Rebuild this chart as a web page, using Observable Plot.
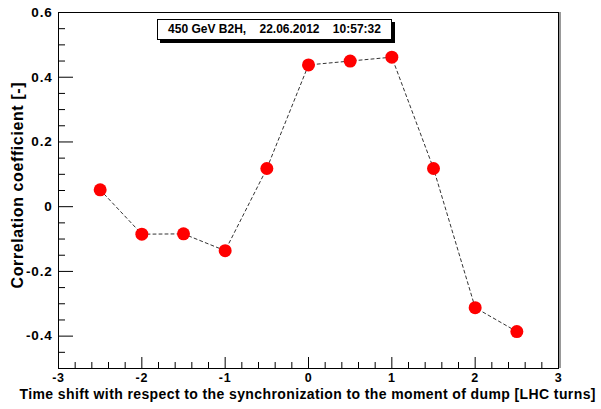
<!DOCTYPE html>
<html>
<head>
<meta charset="utf-8">
<script src="https://cdn.jsdelivr.net/npm/d3@7"></script>
<script src="https://cdn.jsdelivr.net/npm/@observablehq/plot@0.6"></script>
<style>
  body { margin: 0; background: #fff; }
  #wrap { position: relative; width: 601px; height: 409px; }
  #wrap svg { font-family: "Liberation Sans", Arial, sans-serif; }
  #wrap svg g[aria-label$="tick label"] text { letter-spacing: 0.8px; }
  #stamp {
    position: absolute; left: 157px; top: 19px; width: 233px; height: 19px;
    border: 1px solid #000; background: #fff; box-shadow: 3px 3px 0 #000;
    font: bold 12px "Liberation Sans", Arial, sans-serif; white-space: pre;
    line-height: 19px; text-align: center; color: #000;
  }
</style>
</head>
<body>
<div id="wrap"></div>
<script>
// Time shift in LHC turns and the measured correlation coefficient
const shifts = [-2.5, -2, -1.5, -1, -0.5, 0, 0.5, 1, 1.5, 2, 2.5];
const correlation = [0.052, -0.085, -0.084, -0.136, 0.118, 0.438, 0.450, 0.462, 0.118, -0.312, -0.386];

// Axis ticks and their labels
const xMajorTicks = [-3, -2, -1, 0, 1, 2, 3];
const xTickLabels = ["-3", "-2", "-1", "0", "1", "2", "3"];
const yMajorTicks = [-0.4, -0.2, 0, 0.2, 0.4, 0.6];
const yTickLabels = ["-0.4", "-0.2", "0", "0.2", "0.4", "0.6"];

const stampText = "450 GeV B2H,    22.06.2012    10:57:32";
const xTitle = "Time shift with respect to the synchronization to the moment of dump [LHC turns]";
const yTitle = "Correlation coefficient [-]";

const points = shifts.map((s, i) => ({shift: s, r: correlation[i]}));
const xMinor = d3.range(-30, 31, 2).map(v => v / 10).filter(v => !xMajorTicks.includes(v));
const yMinor = d3.range(-10, 13, 1).map(v => v / 20).filter(v => !yMajorTicks.some(t => Math.abs(t - v) < 1e-9));

const fmtX = d => xTickLabels[xMajorTicks.indexOf(d)];
const fmtY = d => yTickLabels[yMajorTicks.findIndex(t => Math.abs(t - d) < 1e-9)];

const chart = Plot.plot({
  width: 601,
  height: 409,
  marginLeft: 58,
  marginRight: 43,
  marginTop: 12,
  marginBottom: 41,
  style: {fontFamily: "Liberation Sans, Arial, sans-serif", background: "#fff"},
  x: {domain: [-3, 3]},
  y: {domain: [-0.5, 0.6]},
  marks: [
    // inward ticks
    Plot.axisX(xMajorTicks, {tickSize: -11, text: null, stroke: "#000", label: null}),
    Plot.axisX(xMinor, {tickSize: -6, text: null, stroke: "#000", label: null}),
    Plot.axisY(yMajorTicks, {tickSize: -15, text: null, stroke: "#000", label: null}),
    Plot.axisY(yMinor, {tickSize: -7, text: null, stroke: "#000", label: null}),
    // tick labels
    Plot.axisX(xMajorTicks, {tickSize: 0, tickPadding: 5, tickFormat: fmtX, fontSize: 12.5, fontWeight: "bold", fill: "#000", label: null}),
    Plot.axisY(yMajorTicks, {tickSize: 0, tickPadding: 6, tickFormat: fmtY, fontSize: 13.5, fontWeight: "bold", fill: "#000", label: null}),
    Plot.frame({stroke: "#000", strokeWidth: 1}),
    Plot.ruleX([3], {stroke: "#777", strokeWidth: 1.5, dx: 1.5}),
    Plot.line(points, {x: "shift", y: "r", stroke: "#333", strokeWidth: 1, strokeDasharray: "3,3"}),
    Plot.dot(points, {x: "shift", y: "r", r: 6.5, fill: "#ff0000", stroke: null}),
    // axis titles
    Plot.text([xTitle], {frameAnchor: "bottom", lineAnchor: "middle", dy: 26, dx: -1, fontSize: 14, fontWeight: "bold", fill: "#000", textAnchor: "middle"}),
    Plot.text([yTitle], {frameAnchor: "left", lineAnchor: "middle", textAnchor: "middle", dx: -41, dy: -5, rotate: -90, fontSize: 16, fontWeight: "bold", fill: "#000"})
  ]
});

// stretch the axis titles to their full extent
chart.querySelectorAll("text").forEach(t => {
  if (t.textContent === xTitle) { t.setAttribute("textLength", 576); t.setAttribute("lengthAdjust", "spacing"); }
  if (t.textContent === yTitle) { t.setAttribute("textLength", 206); t.setAttribute("lengthAdjust", "spacing"); }
});

const wrap = document.getElementById("wrap");
wrap.appendChild(chart);
const stamp = document.createElement("div");
stamp.id = "stamp";
stamp.textContent = stampText;
wrap.appendChild(stamp);
</script>
</body>
</html>
